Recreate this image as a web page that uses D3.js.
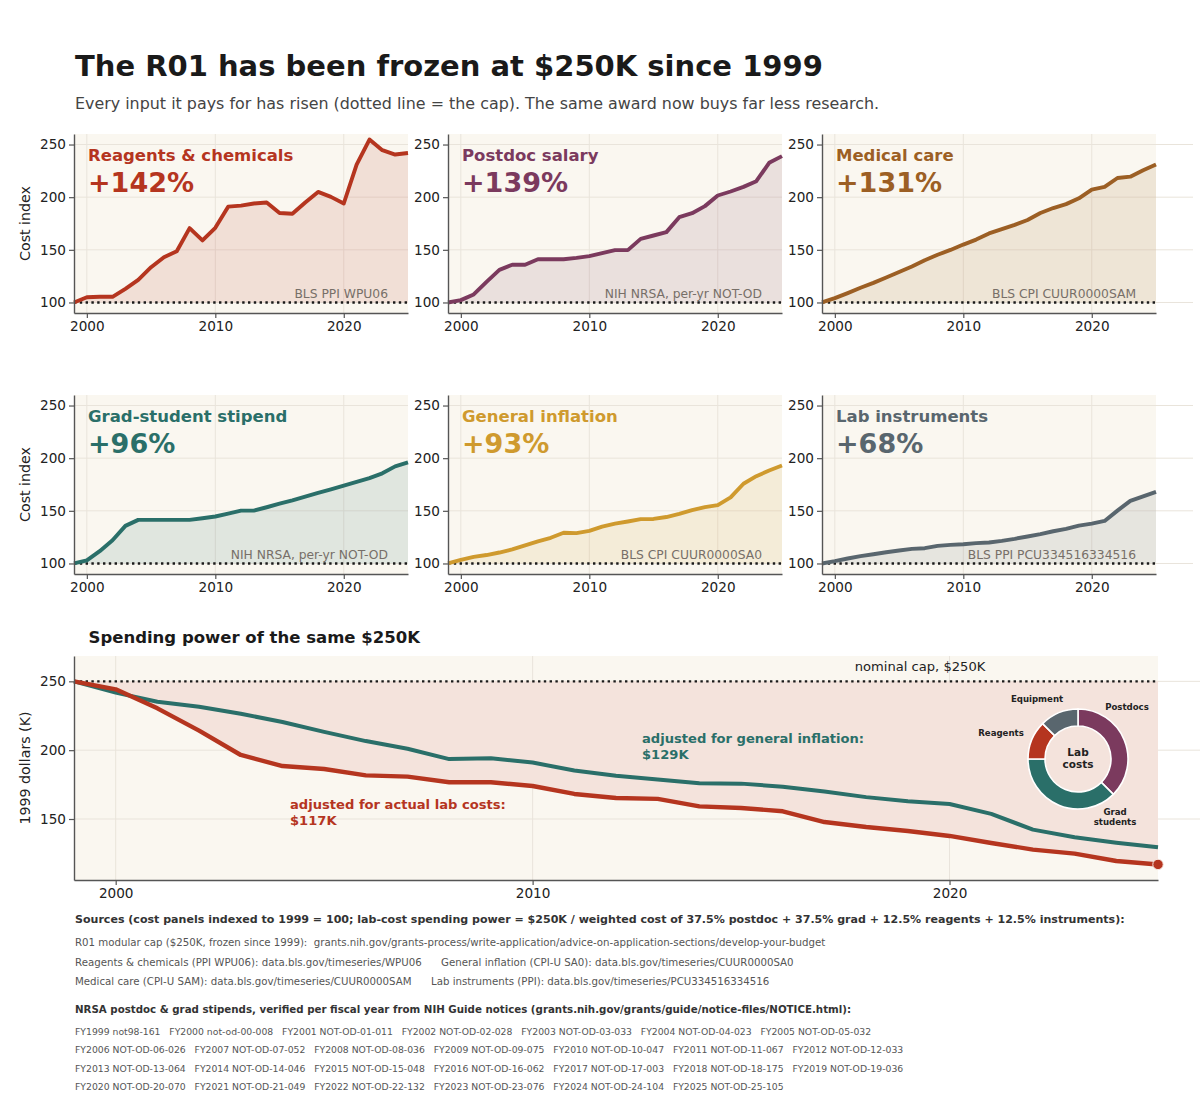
<!DOCTYPE html>
<html><head><meta charset="utf-8">
<script src="https://cdn.jsdelivr.net/npm/d3@7"></script>
<style>
body{margin:0;background:#fff;}
svg{display:block;font-family:"DejaVu Sans",sans-serif;}
</style></head><body>
<svg id="chart" width="1200" height="1116"></svg>
<script>
// ---------------- DATA ----------------
const years = [1999,2000,2001,2002,2003,2004,2005,2006,2007,2008,2009,2010,2011,2012,2013,2014,2015,2016,2017,2018,2019,2020,2021,2022,2023,2024,2025];
const reagents    = [100,105,105.4,105.4,113,121.5,133.5,143,148.7,170.6,158.9,170.9,191,192,194,195,185,184.2,195,205,200.3,194,231,254.7,244.6,240.5,242];
const postdoc     = [100,102.2,107.6,119.6,131,135.8,135.8,141.1,141.1,141.1,142.4,144,146.8,149.7,149.7,160.4,163.6,166.8,181,184.8,191.5,201.6,205.4,209.8,215.2,232.6,239];
const medical     = [100,104.1,108.9,114,118.6,123.7,129,134.2,140.1,145.3,149.9,155,159.7,165.6,169.6,173.7,178.3,185,189.7,193.4,198.9,207.1,209.7,218.2,219.5,225.5,231];
const grad        = [100,103,111.7,122,135.7,141.4,141.4,141.4,141.4,141.4,143,144.6,147.4,150.2,150.2,153.4,156.8,160,163.5,167,170.4,173.9,177.4,181,185.6,192.2,196];
const cpi         = [100,103.4,106.3,108,110.4,113.4,117.2,121,124.4,129.2,128.8,130.9,135,137.8,139.9,142.1,142.3,144.1,147.1,150.7,153.5,155.4,162.7,175.7,182.9,188.3,193];
const instruments = [100,102.2,104.7,107,108.8,110.7,112.3,113.9,114.5,116.7,117.7,118.3,119.3,119.9,121.5,123.4,125.6,127.8,130.6,132.8,136,137.9,140.4,150.2,159.4,163.8,168];

const labPower  = [250,244.2,230.4,214.2,196.5,188.5,186.3,181.7,180.8,176.7,176.7,174,168.2,165.3,164.6,159.2,158,155.6,147.8,144.2,141.3,137.7,132.6,127.8,124.9,119.5,117];
const inflPower = [250,241.8,235.2,231.5,226.4,220.5,213.3,206.6,201,193.5,194.1,191,185.2,181.4,178.7,175.9,175.7,173.5,170,165.9,162.9,160.9,153.7,142.3,136.7,132.8,129.5];

const panelTitles  = ["Reagents & chemicals","Postdoc salary","Medical care","Grad-student stipend","General inflation","Lab instruments"];
const panelChanges = ["+142%","+139%","+131%","+96%","+93%","+68%"];
const panelSources = ["BLS PPI WPU06","NIH NRSA, per-yr NOT-OD","BLS CPI CUUR0000SAM","NIH NRSA, per-yr NOT-OD","BLS CPI CUUR0000SA0","BLS PPI PCU334516334516"];
const panelSeries  = [reagents, postdoc, medical, grad, cpi, instruments];
const panelColors  = ["#B5351F","#7B3A5E","#9C5F24","#2A6F69","#CF9A2E","#59666E"];

const panelYTicks  = [100,150,200,250];
const xTicks       = [2000,2010,2020];
const bottomYTicks = [150,200,250];
const capValue = 250;
const baseIndex = 100;

const donutLabels = ["Postdocs","Grad students","Reagents","Equipment"];
const donutShares = [37.5,37.5,12.5,12.5];
const donutColors = ["#7B3A5E","#2A6F69","#B5351F","#59666E"];

const sourceLines = [
  "R01 modular cap ($250K, frozen since 1999):  grants.nih.gov/grants-process/write-application/advice-on-application-sections/develop-your-budget",
  "Reagents & chemicals (PPI WPU06): data.bls.gov/timeseries/WPU06      General inflation (CPI-U SA0): data.bls.gov/timeseries/CUUR0000SA0",
  "Medical care (CPI-U SAM): data.bls.gov/timeseries/CUUR0000SAM      Lab instruments (PPI): data.bls.gov/timeseries/PCU334516334516"
];
const notices = ["FY1999 not98-161","FY2000 not-od-00-008","FY2001 NOT-OD-01-011","FY2002 NOT-OD-02-028","FY2003 NOT-OD-03-033","FY2004 NOT-OD-04-023","FY2005 NOT-OD-05-032",
  "FY2006 NOT-OD-06-026","FY2007 NOT-OD-07-052","FY2008 NOT-OD-08-036","FY2009 NOT-OD-09-075","FY2010 NOT-OD-10-047","FY2011 NOT-OD-11-067","FY2012 NOT-OD-12-033",
  "FY2013 NOT-OD-13-064","FY2014 NOT-OD-14-046","FY2015 NOT-OD-15-048","FY2016 NOT-OD-16-062","FY2017 NOT-OD-17-003","FY2018 NOT-OD-18-175","FY2019 NOT-OD-19-036",
  "FY2020 NOT-OD-20-070","FY2021 NOT-OD-21-049","FY2022 NOT-OD-22-132","FY2023 NOT-OD-23-076","FY2024 NOT-OD-24-104","FY2025 NOT-OD-25-105"];

// ---------------- STYLE ----------------
const BG = "#FAF7F0", GRID = "#E9E4DB", SPINE = "#555", TXT = "#222";

const svg = d3.select("#chart");
svg.append("rect").attr("width",1200).attr("height",1116).attr("fill","#fff");

svg.append("text").attr("x",75).attr("y",76).attr("font-size",29).attr("font-weight","bold")
  .attr("fill","#1a1a1a").text("The R01 has been frozen at $250K since 1999");
svg.append("text").attr("x",75).attr("y",109).attr("font-size",15.9).attr("fill","#444")
  .text("Every input it pays for has risen (dotted line = the cap). The same award now buys far less research.");

function styleAxis(g){
  g.selectAll(".domain").attr("stroke",SPINE).attr("stroke-width",1.4);
  g.selectAll(".tick line").attr("stroke",SPINE).attr("stroke-width",1.2);
  g.selectAll(".tick text").attr("fill",TXT).attr("font-size",13.6).attr("font-family","DejaVu Sans");
}

// ---------------- SMALL MULTIPLES ----------------
const panelW = 334, panelH = 179;
const colX = [74, 448, 822], rowY = [134, 395];
const px = d3.scaleLinear().domain([1999,2025]).range([0,panelW]);
const py = d3.scaleLinear().domain([90,260]).range([panelH,0]);

panelSeries.forEach((vals,i)=>{
  const col = i%3, row = Math.floor(i/3);
  const color = panelColors[i];
  const g = svg.append("g").attr("transform",`translate(${colX[col]},${rowY[row]})`);
  g.append("rect").attr("width",panelW).attr("height",panelH).attr("fill",BG);
  const gridRight = col===2 ? panelW+37 : panelW;
  g.selectAll(".hg").data(panelYTicks).enter().append("line")
    .attr("x1",0).attr("x2",gridRight).attr("y1",d=>py(d)).attr("y2",d=>py(d))
    .attr("stroke",GRID).attr("stroke-width",1);
  g.selectAll(".vg").data(xTicks).enter().append("line")
    .attr("y1",0).attr("y2",panelH).attr("x1",d=>px(d)).attr("x2",d=>px(d))
    .attr("stroke",GRID).attr("stroke-width",1);

  const area = d3.area().x((d,j)=>px(years[j])).y0(py(baseIndex)).y1(d=>py(d));
  g.append("path").datum(vals).attr("d",area).attr("fill",color).attr("fill-opacity",0.12);

  g.append("line").attr("x1",0).attr("x2",panelW).attr("y1",py(baseIndex)).attr("y2",py(baseIndex))
    .attr("stroke","#1a1a1a").attr("stroke-width",2.4).attr("stroke-dasharray","2.4,3.4");

  const line = d3.line().x((d,j)=>px(years[j])).y(d=>py(d));
  g.append("path").datum(vals).attr("d",line).attr("fill","none").attr("stroke",color)
    .attr("stroke-width",3.9).attr("stroke-linejoin","round").attr("stroke-linecap","butt");

  g.append("text").attr("x",14).attr("y",27).attr("font-size",16.5).attr("font-weight","bold")
    .attr("fill",color).text(panelTitles[i]);
  g.append("text").attr("x",14).attr("y",58).attr("font-size",27).attr("font-weight","bold")
    .attr("fill",color).text(panelChanges[i]);
  g.append("text").attr("x",panelW-20).attr("y",py(baseIndex)-4.5).attr("text-anchor","end")
    .attr("font-size",12.3).attr("fill","#776f68").text(panelSources[i]);

  const ya = g.append("g").call(d3.axisLeft(py).tickValues(panelYTicks).tickSize(5).tickPadding(3).tickSizeOuter(0));
  const xa = g.append("g").attr("transform",`translate(0,${panelH})`)
    .call(d3.axisBottom(px).tickValues(xTicks).tickFormat(d3.format("d")).tickSize(5).tickPadding(3).tickSizeOuter(0));
  styleAxis(ya); styleAxis(xa);

  if(col===0){
    svg.append("text").attr("transform",`translate(25,${rowY[row]+panelH/2}) rotate(-90)`)
      .attr("text-anchor","middle").attr("dominant-baseline","central")
      .attr("font-size",14.2).attr("fill",TXT).text("Cost index");
  }
});

// ---------------- SPENDING POWER CHART ----------------
const L = 74, R = 1158, T = 656, B = 880;
const bx = d3.scaleLinear().domain([1999,2025]).range([L,R]);
const by = d3.scaleLinear().domain([105.7,268.4]).range([B,T]);

svg.append("text").attr("x",88.5).attr("y",643).attr("font-size",16.5).attr("font-weight","bold")
  .attr("fill","#1a1a1a").text("Spending power of the same $250K");

svg.append("rect").attr("x",L).attr("y",T).attr("width",R-L).attr("height",B-T).attr("fill",BG);
svg.selectAll(".bhg").data(bottomYTicks).enter().append("line")
  .attr("x1",L).attr("x2",1200).attr("y1",d=>by(d)).attr("y2",d=>by(d))
  .attr("stroke",GRID).attr("stroke-width",1);
svg.selectAll(".bvg").data(xTicks).enter().append("line")
  .attr("x1",d=>bx(d)).attr("x2",d=>bx(d)).attr("y1",T).attr("y2",B)
  .attr("stroke",GRID).attr("stroke-width",1);

const gapArea = d3.area().x((d,j)=>bx(years[j])).y0(by(capValue)).y1(d=>by(d));
svg.append("path").datum(labPower).attr("d",gapArea).attr("fill","#F4E3DC");

svg.append("line").attr("x1",L).attr("x2",R).attr("y1",by(capValue)).attr("y2",by(capValue))
  .attr("stroke","#1a1a1a").attr("stroke-width",2.4).attr("stroke-dasharray","2.4,3.4");
svg.append("text").attr("x",920).attr("y",671).attr("text-anchor","middle").attr("font-size",13.1)
  .attr("fill",TXT).text("nominal cap, $250K");

const bline = d3.line().x((d,j)=>bx(years[j])).y(d=>by(d));
svg.append("path").datum(inflPower).attr("d",bline).attr("fill","none").attr("stroke","#2A6F69")
  .attr("stroke-width",4).attr("stroke-linejoin","round");
svg.append("path").datum(labPower).attr("d",bline).attr("fill","none").attr("stroke","#B5351F")
  .attr("stroke-width",4.4).attr("stroke-linejoin","round");
svg.append("circle").attr("cx",bx(years[years.length-1])).attr("cy",by(labPower[labPower.length-1]))
  .attr("r",5.2).attr("fill","#B5351F").attr("stroke","#f6e6df").attr("stroke-width",1);

const ann1 = svg.append("text").attr("font-size",13.1).attr("font-weight","bold").attr("fill","#2A6F69");
ann1.append("tspan").attr("x",642).attr("y",743).text("adjusted for general inflation:");
ann1.append("tspan").attr("x",642).attr("y",759).text("$129K");
const ann2 = svg.append("text").attr("font-size",13.1).attr("font-weight","bold").attr("fill","#B5351F");
ann2.append("tspan").attr("x",290).attr("y",809).text("adjusted for actual lab costs:");
ann2.append("tspan").attr("x",290).attr("y",825).text("$117K");

const bya = svg.append("g").attr("transform",`translate(${L},0)`)
  .call(d3.axisLeft(by).tickValues(bottomYTicks).tickSize(5).tickPadding(3).tickSizeOuter(0));
const bxa = svg.append("g").attr("transform",`translate(0,${B})`)
  .call(d3.axisBottom(bx).tickValues(xTicks).tickFormat(d3.format("d")).tickSize(5).tickPadding(3).tickSizeOuter(0));
styleAxis(bya); styleAxis(bxa);
svg.append("text").attr("transform",`translate(25,${(T+B)/2}) rotate(-90)`)
  .attr("text-anchor","middle").attr("dominant-baseline","central")
  .attr("font-size",14.2).attr("fill",TXT).text("1999 dollars (K)");

// donut
const dc = {x:1078, y:759}, rOut = 50, rIn = 33;
const pie = d3.pie().sort(null).value(d=>d)(donutShares);
const arc = d3.arc().innerRadius(rIn).outerRadius(rOut);
const dg = svg.append("g").attr("transform",`translate(${dc.x},${dc.y})`);
dg.selectAll("path").data(pie).enter().append("path").attr("d",arc)
  .attr("fill",(d,i)=>donutColors[i]).attr("stroke","#fff").attr("stroke-width",1.6);
const labOff = [[49,-49],[37,56],[-77,-23],[-41,-57]];
donutLabels.forEach((lab,i)=>{
  const t = dg.append("text").attr("text-anchor","middle").attr("font-size",8.6).attr("font-weight","bold").attr("fill",TXT);
  const parts = lab==="Grad students" ? ["Grad","students"] : [lab];
  parts.forEach((p,k)=>t.append("tspan").attr("x",labOff[i][0]).attr("y",labOff[i][1]+k*10).text(p));
});
const ct = dg.append("text").attr("text-anchor","middle").attr("font-size",10.5).attr("font-weight","bold").attr("fill",TXT);
ct.append("tspan").attr("x",0).attr("y",-3).text("Lab");
ct.append("tspan").attr("x",0).attr("y",9).text("costs");

// ---------------- FOOTER ----------------
svg.append("text").attr("x",75).attr("y",923).attr("font-size",11.05).attr("font-weight","bold").attr("fill","#333")
  .text("Sources (cost panels indexed to 1999 = 100; lab-cost spending power = $250K / weighted cost of 37.5% postdoc + 37.5% grad + 12.5% reagents + 12.5% instruments):");
sourceLines.forEach((s,i)=>{
  svg.append("text").attr("x",75).attr("y",946+i*19.6).attr("font-size",10.22).attr("fill","#555")
    .style("white-space","pre").text(s);
});
svg.append("text").attr("x",75).attr("y",1013).attr("font-size",10.25).attr("font-weight","bold").attr("fill","#333")
  .text("NRSA postdoc & grad stipends, verified per fiscal year from NIH Guide notices (grants.nih.gov/grants/guide/notice-files/NOTICE.html):");
d3.range(Math.ceil(notices.length/7)).forEach(r=>{
  svg.append("text").attr("x",75).attr("y",1035+r*18.4).attr("font-size",9.27).attr("fill","#555")
    .style("white-space","pre").text(notices.slice(r*7,r*7+7).join("   "));
});
</script>
</body></html>
